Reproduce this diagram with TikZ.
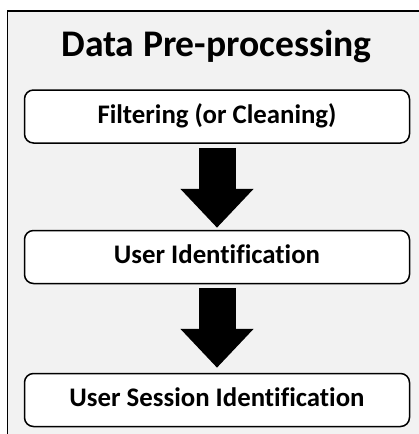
\documentclass[tikz,border=0pt]{standalone}
\usepackage{fontspec}
\setmainfont{Carlito}[Ligatures={NoCommon}]
\usetikzlibrary{arrows.meta,calc}
\definecolor{panelgray}{HTML}{F2F2F2}
\tikzset{
  stage/.style={draw=black, line width=1.5pt, fill=white, rounded corners=9pt,
    minimum width=385pt, minimum height=53pt, inner sep=0pt,
    font=\fontsize{26.8}{32}\selectfont\bfseries,
    text height=18pt, text depth=5pt},
  flow/.style={line width=37pt, draw=black,
    -{Triangle[length=39pt,width=71pt]}}
}
\begin{document}
\begin{tikzpicture}[x=1pt,y=1pt]
  \useasboundingbox (0,0) rectangle (419,-434);
  \clip (0,0) rectangle (419,-434);
  % grey panel, open to the right and bottom
  \draw[fill=panelgray, line width=1.5pt] (7.5,-11) rectangle (440,-460);
  % title
  \node[anchor=base, font=\fontsize{37.6}{44}\selectfont\bfseries] (title) at (216.5,-56) {Data Pre-processing};
  % stages
  \node[stage] (s1) at (217,-116.5) {Filtering (or Cleaning)};
  \node[stage] (s2) at (217,-257) {User Identification};
  \node[stage] (s3) at (217,-400) {User Session Identification};
  % block arrows between stages
  \draw[flow] ($(s1.south)+(0,-4)$) -- ($(s2.north)+(0,2)$);
  \draw[flow] ($(s2.south)+(0,-4)$) -- ($(s3.north)+(0,5)$);
\end{tikzpicture}
\end{document}
